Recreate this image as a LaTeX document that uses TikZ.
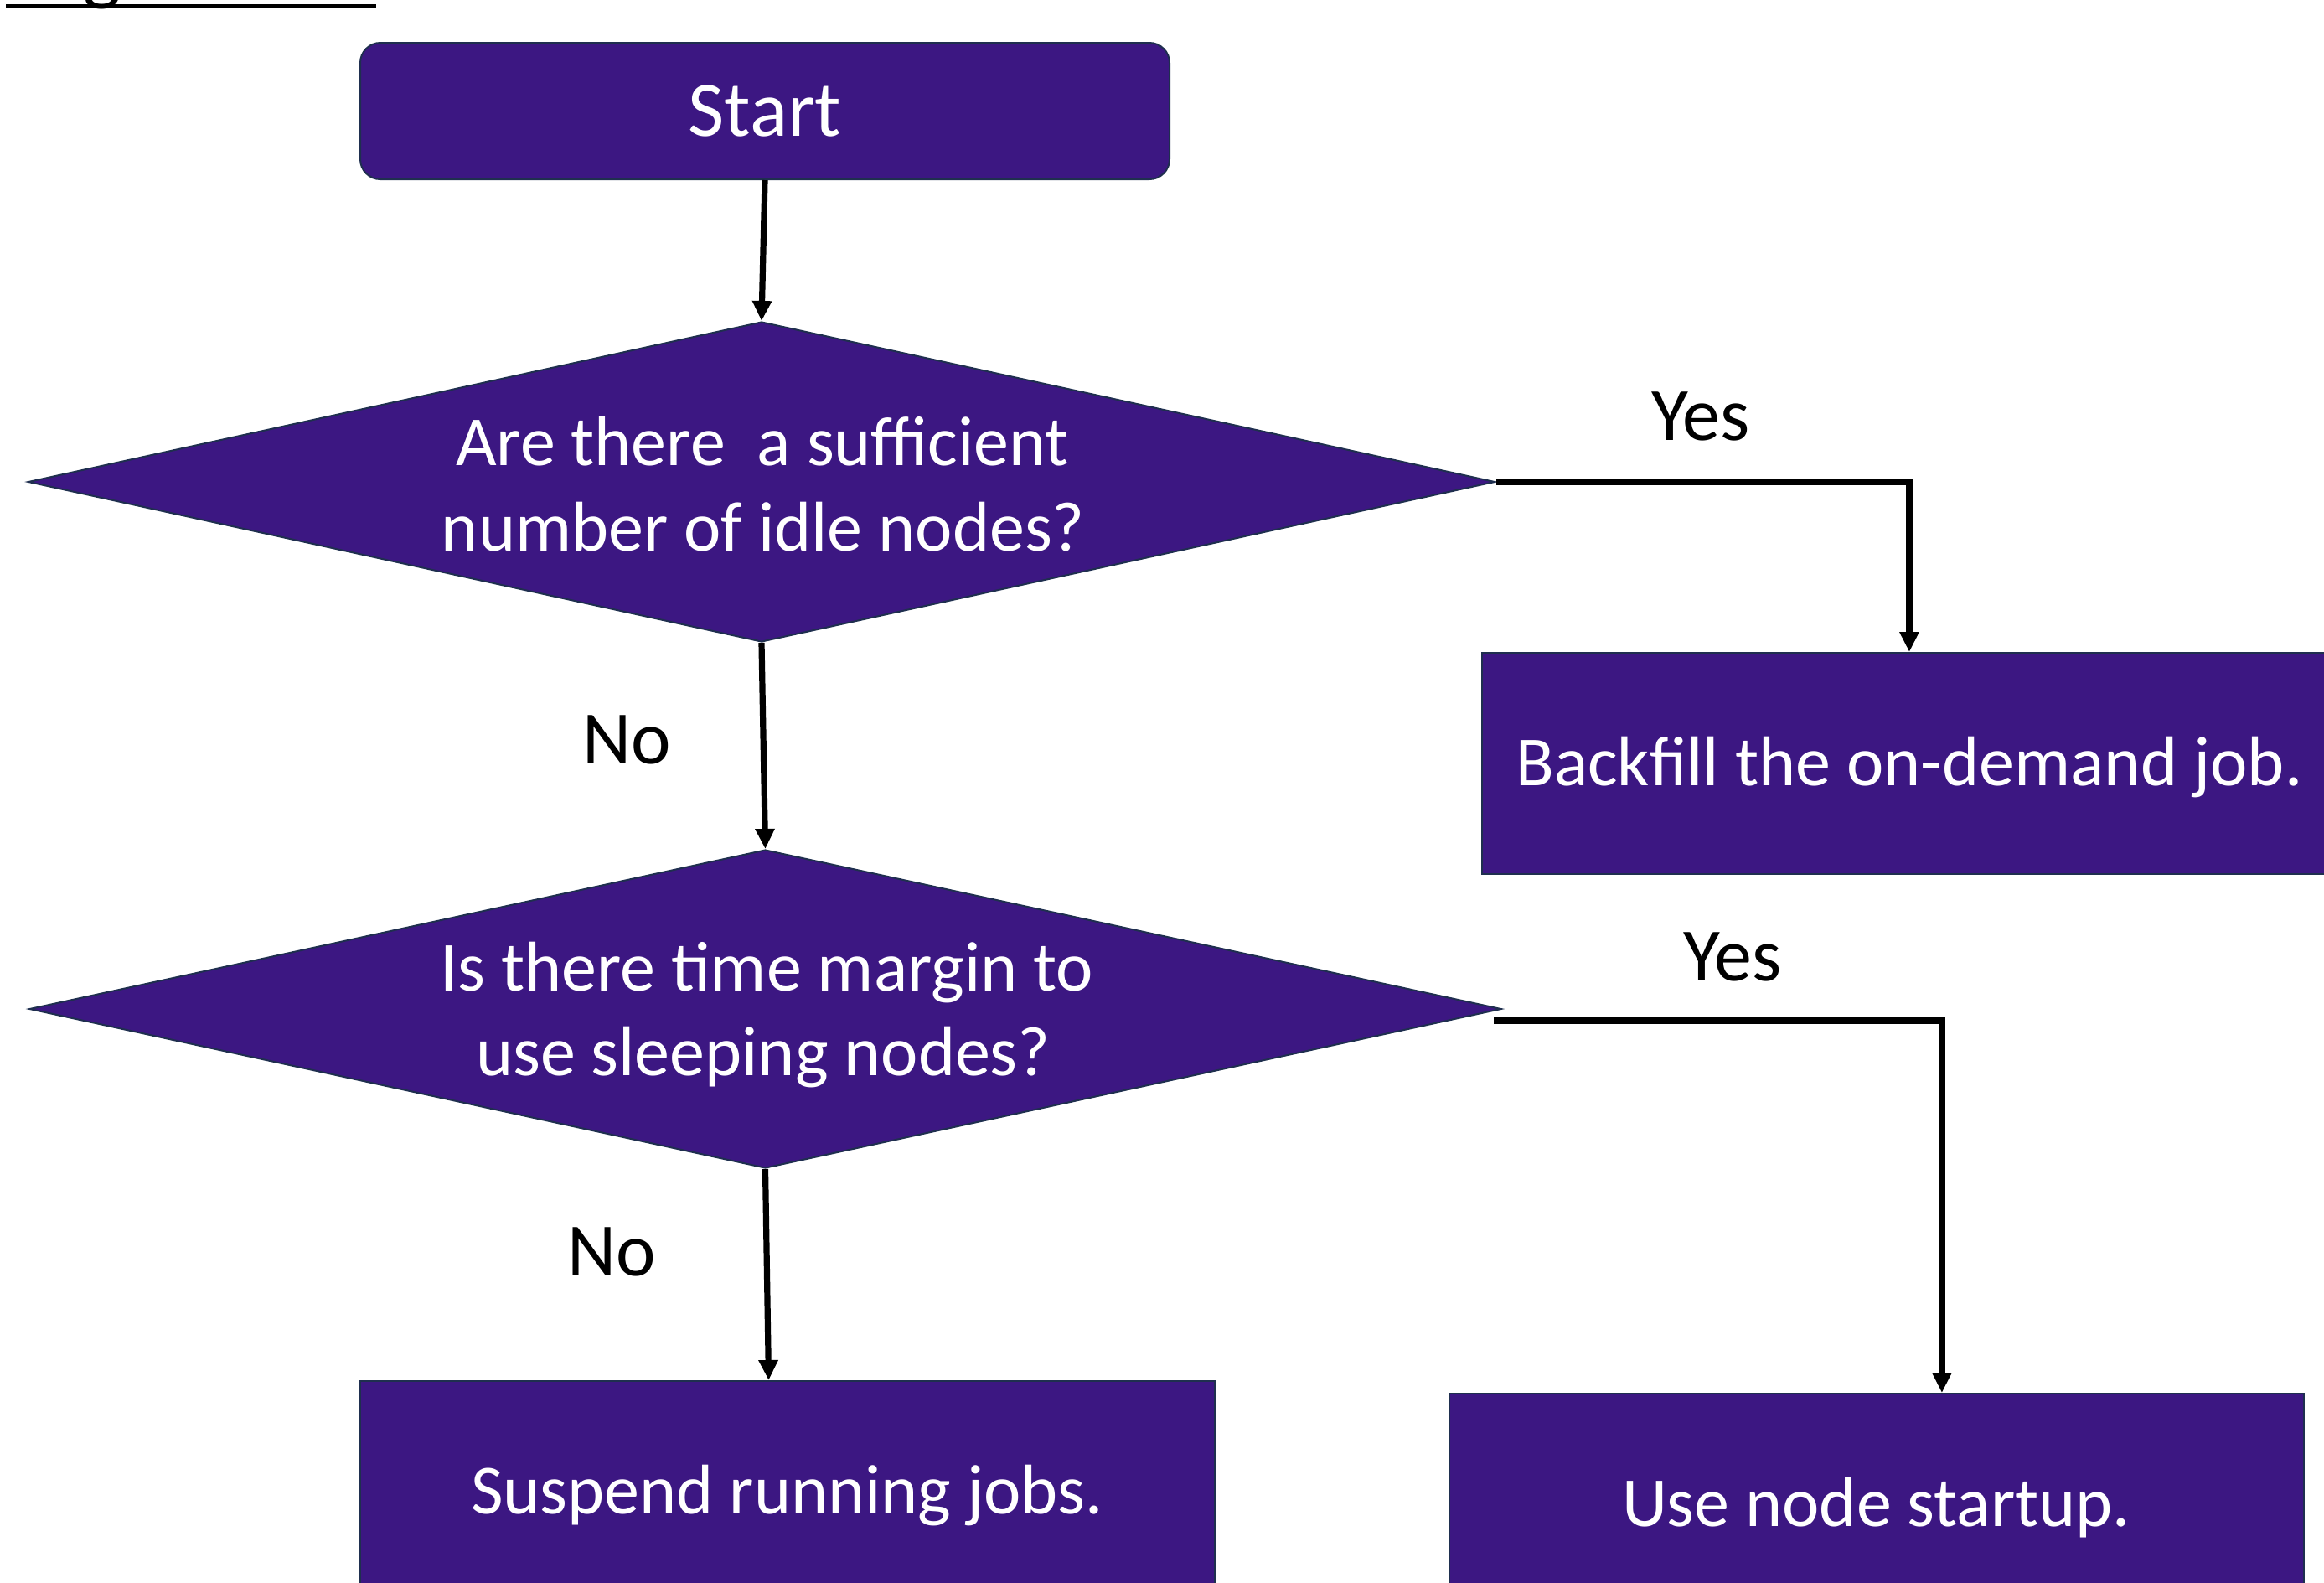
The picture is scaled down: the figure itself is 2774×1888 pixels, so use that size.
\documentclass[tikz,border=0pt]{standalone}
\usepackage{fontspec}
\setmainfont{Carlito}
\usetikzlibrary{shapes.geometric,arrows.meta,calc}
\definecolor{pfill}{HTML}{3C1782}
\definecolor{pedge}{HTML}{1F2F4F}
\begin{document}
\begin{tikzpicture}[x=0.25pt,y=-0.25pt,
  shapebase/.style={draw=pedge,line width=0.5pt,fill=pfill,text=white,inner sep=0pt},
  box/.style={shapebase,minimum width=255pt,minimum height=66pt,
    font=\fontsize{21}{25}\selectfont,text height=13.3pt,text depth=0pt},
  startbox/.style={shapebase,rounded corners=6pt,minimum width=241.5pt,minimum height=40.75pt,
    font=\fontsize{23.5}{28}\selectfont,text height=14.8pt,text depth=0pt},
  dia/.style={shapebase,shape=diamond},
  diatxt/.style={text=white,anchor=base,inner sep=0pt,font=\fontsize{21}{25}\selectfont},
  lbl/.style={text=black,anchor=base,inner sep=0pt,font=\fontsize{22.5}{27}\selectfont},
  ln/.style={line width=1.8pt},
  arr/.style={line width=1.8pt,-{Triangle[length=6pt,width=5.5pt]}}]
\useasboundingbox (0,0) rectangle (2774,1888);
\clip (0,0) rectangle (2774,1888);

% cut-off heading fragment at the top left
\node[anchor=base,inner sep=0pt,font=\fontsize{24}{28}\selectfont] (hg) at (122,-6) {g};
\coordinate (ulA) at (7,7.5);
\coordinate (ulB) at (449,7.5);
\draw[line width=1.4pt] (ulA) -- (ulB);

% shapes
\node[startbox] (start) at (913,132.5) {Start};
\node[dia,minimum width=437.75pt,minimum height=95.5pt] (d1) at (909,575) {};
\node[dia,minimum width=439.25pt,minimum height=95pt] (d2) at (913.5,1204) {};
\node[box] (b1) at (2279,911) {Backfill the on-demand job.};
\node[box] (b2) at (2239.5,1795) {Use node startup.};
\node[box] (b3) at (939.5,1780) {Suspend running jobs.};

% diamond texts
\node[diatxt] (d1a) at (910,555) {Are there\ \ a sufficient};
\node[diatxt] (d1b) at (911,657) {number of idle nodes?};
\node[diatxt] (d2a) at (915,1182) {Is there time margin to};
\node[diatxt] (d2b) at (911,1283) {use sleeping nodes?};

% labels
\node[lbl] (yes1) at (2030,525) {Yes};
\node[lbl] (yes2) at (2068,1170) {Yes};
\node[lbl] (no1) at (748,911) {No};
\node[lbl] (no2) at (730,1522) {No};

% connectors
\draw[arr] (start.south) -- (d1.north);
\draw[arr] (d1.south) -- (d2.north);
\draw[arr] (d2.south) -- ([xshift=1pt]d2.south |- b3.north);
\draw[arr] (d1.east) -| (b1.north);
\coordinate (y2s) at (1783,1218);
\draw[arr] (y2s) -| ([xshift=19.6pt]b2.north);
\end{tikzpicture}
\end{document}
